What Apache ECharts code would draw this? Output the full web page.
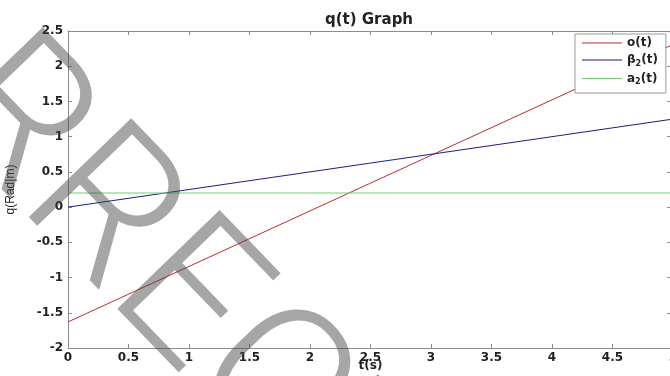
<!DOCTYPE html>
<html>
<head>
<meta charset="utf-8">
<script src="https://cdn.jsdelivr.net/npm/echarts@6/dist/echarts.min.js"></script>
<style>
  html, body { margin: 0; padding: 0; background: #fff; }
  #main { width: 670px; height: 376px; }
</style>
</head>
<body>
<div id="main"></div>
<script>
// time axis (s) and the three curves
var tValues = [0, 5];
var thetaValues = [-1.63, 2.31];
var betaValues = [0, 1.25];
var alphaValues = [0.2, 0.2];
var seriesNames = ['o(t)', 'β2(t)', 'a2(t)'];
var seriesColors = ['#c0282d', '#1c1f80', '#6fd36f'];
var legendRich = ['{a|o(t)}', '{a|β}{s|2}{a|(t)}', '{a|a}{s|2}{a|(t)}'];

function pairs(xs, ys) {
  var out = [];
  for (var i = 0; i < xs.length; i++) {
    out.push([xs[i], ys[i]]);
  }
  return out;
}

// watermark placement: put the stem top of the "E" where it sits in the picture
var wmText = 'CORRECTED';
var wmFont = '300 200px Roboto';
var wmAngle = 46 * Math.PI / 180;
var ctx = document.createElement('canvas').getContext('2d');
ctx.font = wmFont;
var xE = ctx.measureText('CORR').width;
var ux = Math.cos(wmAngle), uy = Math.sin(wmAngle);
var ex = xE + 25, ey = -82;
var wmX = 217 - (ex * ux - ey * uy);
var wmY = 222 - (ex * uy + ey * ux);

var chart = echarts.init(document.getElementById('main'));
var axisGray = '#8c8c8c';
var labelStyle = { color: '#222', fontFamily: 'DejaVu Sans', fontWeight: 'bold', fontSize: 12 };

var legendData = [];
for (var i = 0; i < seriesNames.length; i++) {
  legendData.push({
    name: seriesNames[i],
    itemStyle: { color: seriesColors[i], borderWidth: 0, borderColor: seriesColors[i] }
  });
}

chart.setOption({
  backgroundColor: '#fff',
  animation: false,
  color: seriesColors,
  title: {
    text: 'q(t) Graph',
    left: 364,
    textAlign: 'center',
    top: 8,
    textStyle: { color: '#222', fontFamily: 'DejaVu Sans', fontWeight: 'bold', fontSize: 15 }
  },
  grid: { left: 68, right: -3, top: 31, bottom: 28, containLabel: false, outerBoundsMode: 'none' },
  legend: {
    orient: 'vertical',
    left: 575,
    top: 34,
    backgroundColor: '#fff',
    borderColor: '#999',
    borderWidth: 1,
    padding: [3, 8, 7, 7],
    itemGap: 5,
    itemWidth: 40,
    itemHeight: 1,
    icon: 'rect',
    data: legendData,
    formatter: function (name) {
      return legendRich[seriesNames.indexOf(name)];
    },
    textStyle: {
      rich: {
        a: { color: '#222', fontFamily: 'DejaVu Sans', fontWeight: 'bold', fontSize: 12 },
        s: { color: '#222', fontFamily: 'DejaVu Sans', fontWeight: 'bold', fontSize: 8, verticalAlign: 'bottom', padding: [7, 0, 0, 0] }
      }
    }
  },
  xAxis: [{
    type: 'value',
    min: 0, max: 5, interval: 0.5,
    name: 't(s)',
    nameLocation: 'middle',
    nameGap: 12,
    nameMoveOverlap: false,
    nameTextStyle: { color: '#222', fontFamily: 'DejaVu Sans', fontWeight: 'bold', fontSize: 12 },
    axisLine: { show: true, onZero: false, lineStyle: { color: axisGray } },
    axisTick: { show: true, inside: true, length: 4, lineStyle: { color: axisGray } },
    axisLabel: Object.assign({ margin: 4 }, labelStyle),
    splitLine: { show: false }
  }, {
    type: 'value',
    position: 'top',
    min: 0, max: 5, interval: 0.5,
    axisLine: { show: true, onZero: false, lineStyle: { color: axisGray } },
    axisTick: { show: true, inside: true, length: 4, lineStyle: { color: axisGray } },
    axisLabel: { show: false },
    splitLine: { show: false }
  }],
  yAxis: [{
    type: 'value',
    min: -2, max: 2.5, interval: 0.5,
    name: 'q(Rad|m)',
    nameLocation: 'middle',
    nameGap: 51,
    nameMoveOverlap: false,
    nameTextStyle: { color: '#222', fontFamily: 'Liberation Sans', fontSize: 12 },
    axisLine: { show: true, onZero: false, lineStyle: { color: axisGray } },
    axisTick: { show: true, inside: true, length: 4, lineStyle: { color: axisGray } },
    axisLabel: Object.assign({ margin: 5 }, labelStyle),
    splitLine: { show: false }
  }, {
    type: 'value',
    position: 'right',
    min: -2, max: 2.5, interval: 0.5,
    axisLine: { show: true, onZero: false, lineStyle: { color: axisGray } },
    axisTick: { show: true, inside: true, length: 6, lineStyle: { color: axisGray } },
    axisLabel: { show: false },
    splitLine: { show: false }
  }],
  series: [{
    name: seriesNames[0], type: 'line', symbol: 'none',
    lineStyle: { color: seriesColors[0], width: 1 },
    data: pairs(tValues, thetaValues)
  }, {
    name: seriesNames[1], type: 'line', symbol: 'none',
    lineStyle: { color: seriesColors[1], width: 1 },
    data: pairs(tValues, betaValues)
  }, {
    name: seriesNames[2], type: 'line', symbol: 'none',
    lineStyle: { color: seriesColors[2], width: 1.2 },
    data: pairs(tValues, alphaValues)
  }],
  graphic: [{
    type: 'text',
    x: wmX,
    y: wmY,
    rotation: -wmAngle,
    z: 100,
    silent: true,
    style: {
      text: wmText,
      font: wmFont,
      fill: 'rgba(70,70,70,0.48)',
      align: 'left',
      verticalAlign: 'middle'
    }
  }]
});
</script>
</body>
</html>
